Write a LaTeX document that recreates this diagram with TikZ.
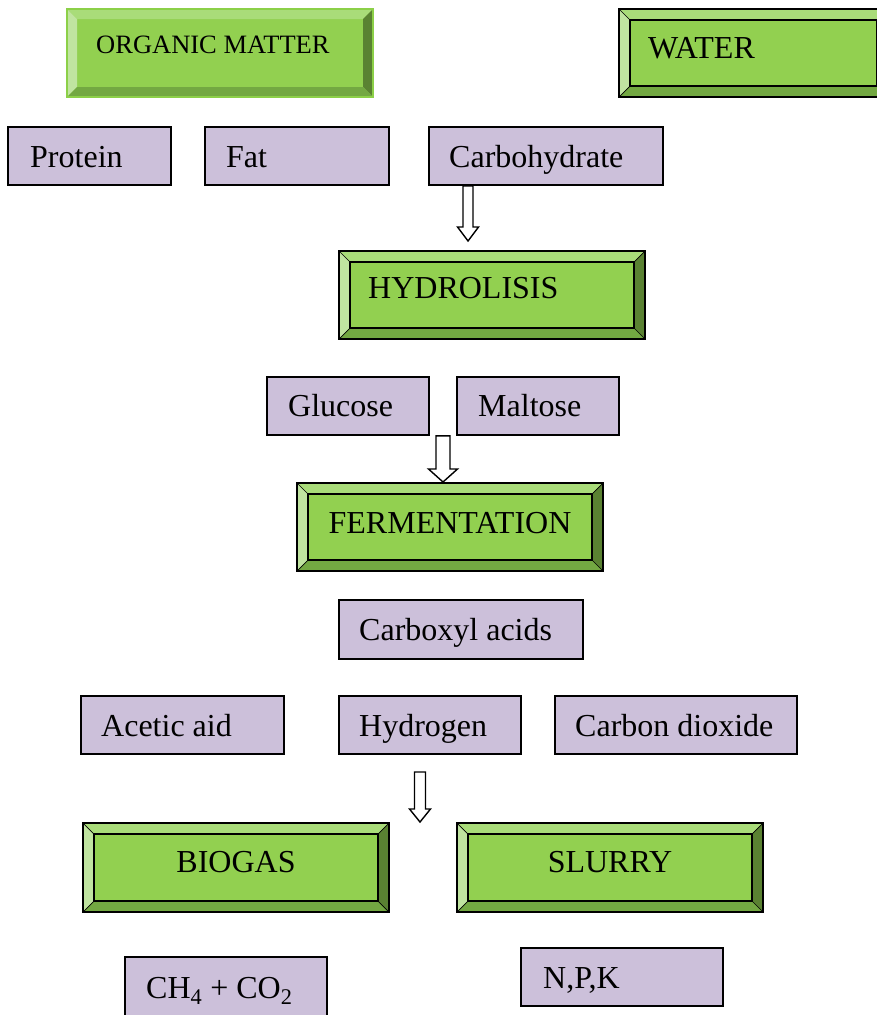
\documentclass[tikz,border=0pt]{standalone}
\usepackage{fontspec}
\setmainfont{Liberation Serif}
\usetikzlibrary{calc,fit}
\definecolor{gmid}{HTML}{92D050}
\definecolor{gtop}{HTML}{A9DC79}
\definecolor{gleft}{HTML}{C0E4A0}
\definecolor{gright}{HTML}{5A8232}
\definecolor{gbot}{HTML}{73A842}
\definecolor{goutline}{HTML}{8CD048}
\definecolor{lav}{HTML}{CCC0DA}
\newcommand\bevelpic[2]{%
  \def\bv{#1}%
  \coordinate (NW) at (path picture bounding box.north west);
  \coordinate (NE) at (path picture bounding box.north east);
  \coordinate (SW) at (path picture bounding box.south west);
  \coordinate (SE) at (path picture bounding box.south east);
  \coordinate (iNW) at ([shift={(\bv,-\bv)}]NW);
  \coordinate (iNE) at ([shift={(-\bv,-\bv)}]NE);
  \coordinate (iSW) at ([shift={(\bv,\bv)}]SW);
  \coordinate (iSE) at ([shift={(-\bv,\bv)}]SE);
  \fill[gtop] (NW) -- (NE) -- (iNE) -- (iNW) -- cycle;
  \fill[gleft] (NW) -- (iNW) -- (iSW) -- (SW) -- cycle;
  \fill[gright] (NE) -- (SE) -- (iSE) -- (iNE) -- cycle;
  \fill[gbot] (SW) -- (iSW) -- (iSE) -- (SE) -- cycle;
  \draw[#2, line width=0.7pt] (NW) -- (iNW) (NE) -- (iNE) (SW) -- (iSW) (SE) -- (iSE);
  \draw[#2, line width=2pt] (iNW) rectangle (iSE);
}
\newcommand\blockarrow[5]{%
  \draw[blockarr] let \p1=(#1), \p2=(#2) in
    (\x1-#3,\y1) -- (\x1-#3,\y2+#5) -- (\x1-#4,\y2+#5) -- (\x2,\y2)
    -- (\x1+#4,\y2+#5) -- (\x1+#3,\y2+#5) -- (\x1+#3,\y1) -- cycle;
}
\tikzset{
  gbox/.style={rectangle, inner sep=0pt, fill=gmid, draw=black, line width=2pt,
    path picture={\bevelpic{11pt}{draw=black}}},
  gboxsoft/.style={rectangle, inner sep=0pt, fill=gmid, draw=goutline, line width=2pt,
    path picture={\bevelpic{10pt}{draw=none}}},
  pbox/.style={rectangle, inner sep=0pt, fill=lav, draw=black, line width=1.8pt},
  lbl/.style={anchor=base west, inner sep=0pt, font=\fontsize{32}{36}\selectfont},
  lblc/.style={anchor=base, inner sep=0pt, font=\fontsize{32}{36}\selectfont},
  blockarr/.style={draw=black, fill=white, line width=1.4pt, line join=miter},
}
\begin{document}
\begin{tikzpicture}[x=1pt,y=-1pt]
\clip (0,0) rectangle (877,1015);
\fill[white] (0,0) rectangle (877,1015);

% corner coordinates
\coordinate (om1) at (67,9);   \coordinate (om2) at (373,97);
\coordinate (wa1) at (619,9);  \coordinate (wa2) at (888,97);
\coordinate (pr1) at (8,127);  \coordinate (pr2) at (171,185);
\coordinate (fa1) at (205,127); \coordinate (fa2) at (389,185);
\coordinate (ca1) at (429,127); \coordinate (ca2) at (663,185);
\coordinate (hy1) at (339,251); \coordinate (hy2) at (645,339);
\coordinate (gl1) at (267,377); \coordinate (gl2) at (429,435);
\coordinate (ma1) at (457,377); \coordinate (ma2) at (619,435);
\coordinate (fe1) at (297,483); \coordinate (fe2) at (603,571);
\coordinate (cx1) at (339,600); \coordinate (cx2) at (583,659);
\coordinate (ac1) at (81,696);  \coordinate (ac2) at (284,754);
\coordinate (hd1) at (339,696); \coordinate (hd2) at (521,754);
\coordinate (cd1) at (555,696); \coordinate (cd2) at (797,754);
\coordinate (bi1) at (83,823);  \coordinate (bi2) at (389,912);
\coordinate (sl1) at (457,823); \coordinate (sl2) at (763,912);
\coordinate (ch1) at (125,957); \coordinate (ch2) at (327,1040);
\coordinate (np1) at (521,948); \coordinate (np2) at (723,1006);

% green bevel boxes
\node[gboxsoft, fit=(om1)(om2)] (organic) {};
\node[gbox, fit=(wa1)(wa2)] (water) {};
\node[gbox, fit=(hy1)(hy2)] (hydro) {};
\node[gbox, fit=(fe1)(fe2)] (ferm) {};
\node[gbox, fit=(bi1)(bi2)] (biogas) {};
\node[gbox, fit=(sl1)(sl2)] (slurry) {};

% lavender boxes
\node[pbox, fit=(pr1)(pr2)] (protein) {};
\node[pbox, fit=(fa1)(fa2)] (fat) {};
\node[pbox, fit=(ca1)(ca2)] (carb) {};
\node[pbox, fit=(gl1)(gl2)] (glucose) {};
\node[pbox, fit=(ma1)(ma2)] (maltose) {};
\node[pbox, fit=(cx1)(cx2)] (carboxyl) {};
\node[pbox, fit=(ac1)(ac2)] (acetic) {};
\node[pbox, fit=(hd1)(hd2)] (hydrogen) {};
\node[pbox, fit=(cd1)(cd2)] (codiox) {};
\node[pbox, fit=(ch1)(ch2)] (ch4) {};
\node[pbox, fit=(np1)(np2)] (npk) {};

% labels
\node[anchor=base west, inner sep=0pt, font=\fontsize{26.5}{30}\selectfont] (t-organic) at (96,53) {ORGANIC MATTER};
\node[lbl] (t-water) at (648,58) {WATER};
\node[lbl] (t-protein) at (30,167) {Protein};
\node[lbl] (t-fat) at (226,167) {Fat};
\node[lbl] (t-carb) at (449,167) {Carbohydrate};
\node[lbl] (t-hydro) at (368,298) {HYDROLISIS};
\node[lbl] (t-glucose) at (288,416) {Glucose};
\node[lbl] (t-maltose) at (478,416) {Maltose};
\node[lblc] (t-ferm) at (ferm.center |- 0,533) {FERMENTATION};
\node[lbl] (t-carboxyl) at (359,640) {Carboxyl acids};
\node[lbl] (t-acetic) at (101,736) {Acetic aid};
\node[lbl] (t-hydrogen) at (359,736) {Hydrogen};
\node[lbl] (t-codiox) at (575,736) {Carbon dioxide};
\node[lblc] (t-biogas) at (biogas.center |- 0,872) {BIOGAS};
\node[lblc] (t-slurry) at (slurry.center |- 0,872) {SLURRY};
\node[lbl] (t-ch4) at (146,998) {CH\textsubscript{4} + CO\textsubscript{2}};
\node[lbl] (t-npk) at (543,988) {N,P,K};

% arrows
\coordinate (a1s) at (carb.south -| 468,0);
\coordinate (a1e) at (468,241);
\blockarrow{a1s}{a1e}{5pt}{10.5pt}{14pt}
\coordinate (a2s) at (glucose.south -| 443,0);
\coordinate (a2e) at (ferm.north -| 443,0);
\blockarrow{a2s}{a2e}{7pt}{14.5pt}{13pt}
\coordinate (a3s) at (420,772);
\coordinate (a3e) at (biogas.north -| 420,0);
\blockarrow{a3s}{a3e}{5.5pt}{10.5pt}{13pt}
\end{tikzpicture}
\end{document}
